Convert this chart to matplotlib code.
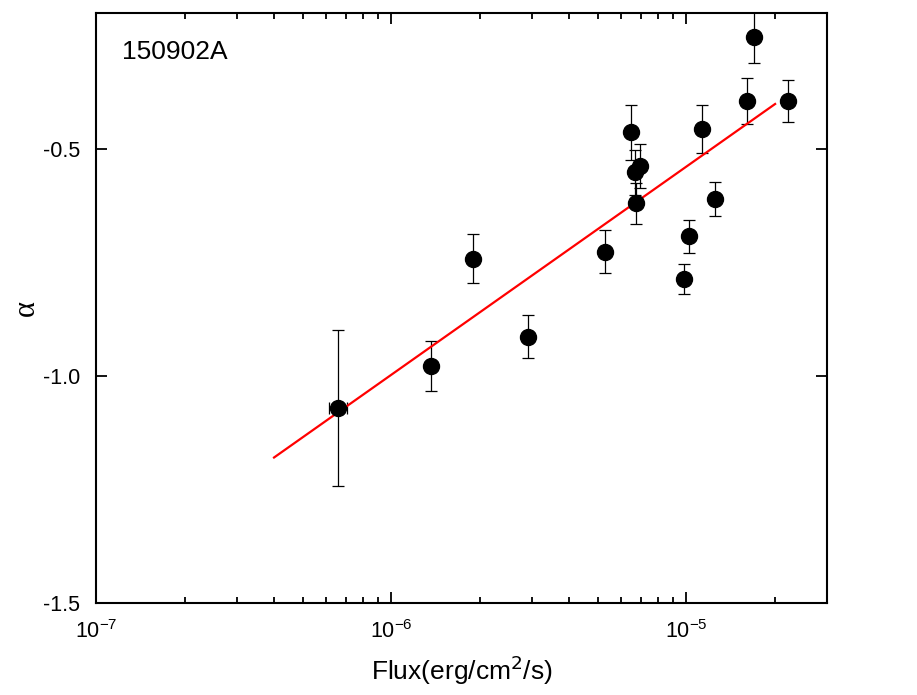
import matplotlib.pyplot as plt
import numpy as np

plt.rcParams['font.family'] = ['Liberation Sans', 'DejaVu Sans']
plt.rcParams['axes.unicode_minus'] = False

# data
flux = [6.6e-7, 1.36e-6, 1.89e-6, 2.91e-6, 5.30e-6, 6.47e-6, 6.95e-6, 6.69e-6,
        6.76e-6, 1.126e-5, 1.606e-5, 1.692e-5, 2.21e-5, 1.249e-5, 1.02e-5, 9.83e-6]
flux_err = [0.45e-7, 0, 0, 0, 0, 0, 0, 0, 0, 0, 0, 0, 0, 0, 0, 0]
alpha = [-1.071, -0.978, -0.741, -0.913, -0.726, -0.463, -0.537, -0.551,
         -0.619, -0.456, -0.394, -0.253, -0.394, -0.610, -0.692, -0.786]
alpha_err = [0.172, 0.055, 0.055, 0.048, 0.048, 0.06, 0.048, 0.05,
             0.045, 0.053, 0.05, 0.058, 0.047, 0.037, 0.036, 0.033]

# linear fit alpha = a + b*log10(flux)
fit_a = 1.754
fit_b = 0.4585
fit_range = [4e-7, 2e-5]

fig = plt.figure(figsize=(9.17, 6.95), dpi=100)
ax = fig.add_axes([0.1052, 0.1324, 0.7967, 0.8489])

ax.errorbar(flux, alpha, yerr=alpha_err, xerr=flux_err, fmt='o', color='black',
            ms=11.5, ecolor='black', elinewidth=0.9, capsize=4, capthick=0.9)

xf = np.logspace(np.log10(fit_range[0]), np.log10(fit_range[1]), 50)
ax.plot(xf, fit_a + fit_b*np.log10(xf), color='red', lw=1.6)

ax.set_xscale('log')
ax.set_xlim(1e-7, 3e-5)
ax.set_ylim(-1.5, -0.2)
ax.set_yticks([-1.5, -1.0, -0.5])
ax.set_yticklabels(['-1.5', '-1.0', '-0.5'])

for s in ax.spines.values():
    s.set_linewidth(1.5)
ax.tick_params(which='both', direction='in', top=True, right=True, width=1.3,
               labelsize=15.5)
ax.tick_params(which='major', length=8)
ax.tick_params(axis='y', which='major', pad=12)
ax.tick_params(axis='x', which='major', pad=12)
ax.tick_params(which='minor', length=4)
ax.tick_params(axis='y', which='minor', left=False, right=False)

ax.set_xlabel('Flux(erg/cm$^2$/s)', fontsize=19, labelpad=8)
ax.set_ylabel('α', fontsize=22, family=['Liberation Serif', 'DejaVu Serif'], labelpad=1)
ax.text(0.035, 0.955, '150902A', transform=ax.transAxes, fontsize=19, va='top', ha='left')

fig.savefig('out.png', dpi=100)
